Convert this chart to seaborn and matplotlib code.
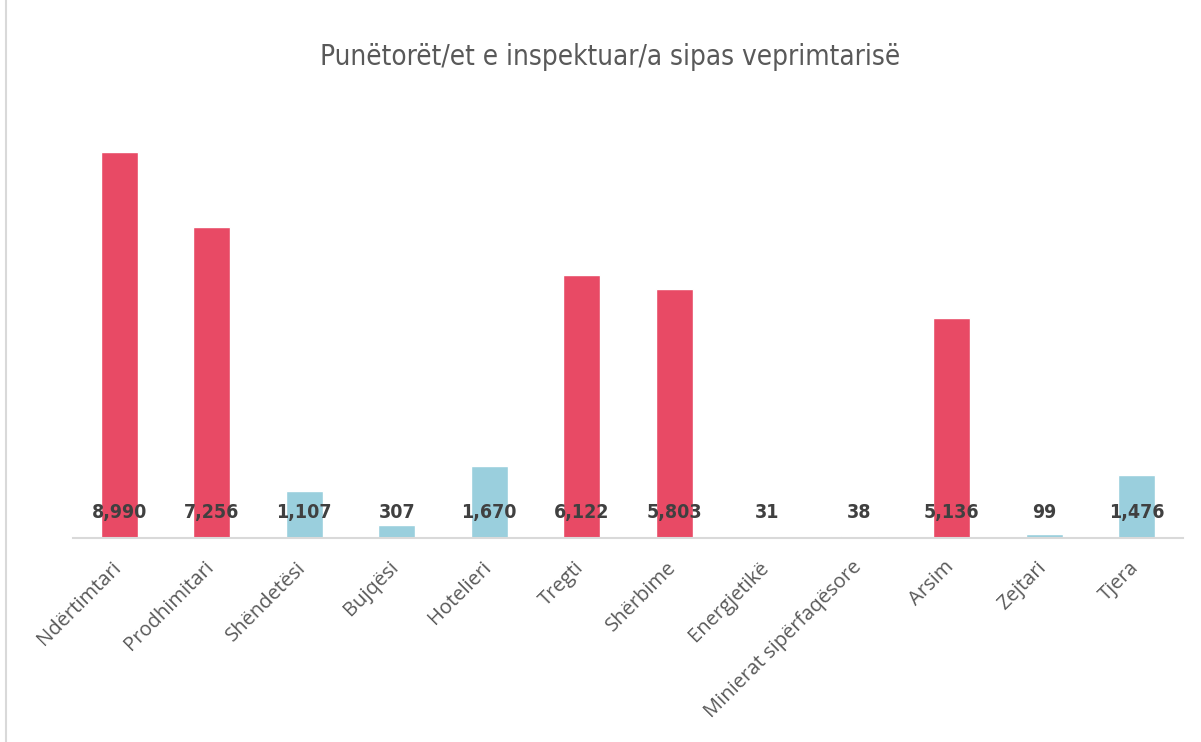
import matplotlib
matplotlib.use("Agg")

import matplotlib.pyplot as plt
import matplotlib.transforms as mtransforms
import seaborn as sns
import pandas as pd

# --- data ---
categories = ["Ndërtimtari", "Prodhimitari", "Shëndetësi", "Bujqësi", "Hotelieri",
              "Tregti", "Shërbime", "Energjetikë", "Minierat sipërfaqësore",
              "Arsim", "Zejtari", "Tjera"]
values = [8990, 7256, 1107, 307, 1670, 6122, 5803, 31, 38, 5136, 99, 1476]
value_labels = ["8,990", "7,256", "1,107", "307", "1,670", "6,122", "5,803",
                "31", "38", "5,136", "99", "1,476"]
title = "Punëtorët/et e inspektuar/a sipas veprimtarisë"

RED = "#E84A65"
BLUE = "#9ACFDD"

sns.set_style("white")
plt.rcParams["font.family"] = ["Open Sans", "DejaVu Sans"]

df = pd.DataFrame({"cat": categories, "val": values})
palette = [RED if v > 5000 else BLUE for v in values]

fig = plt.figure(figsize=(12.01, 7.42), dpi=100)
ax = fig.add_axes([73 / 1201, 1 - 538 / 742, 1110 / 1201, (538 - 109) / 742])

sns.barplot(data=df, x="cat", y="val", hue="cat", palette=palette,
            legend=False, width=0.4, ax=ax, saturation=1)

ax.set_ylim(0, 10000)
ax.set_xlim(-0.5, len(categories) - 0.5)
ax.set_yticks([])
ax.set_xlabel("")
ax.set_ylabel("")
for side in ["top", "right", "left"]:
    ax.spines[side].set_visible(False)
ax.spines["bottom"].set_color("#d9d9d9")
ax.spines["bottom"].set_linewidth(1.5)

ax.tick_params(axis="x", length=0, pad=14)
ax.set_xticks(range(len(categories)))
ax.set_xticklabels(categories, rotation=45, ha="right", rotation_mode="anchor",
                   fontsize=14.5, color="#595959")
# nudge the rotated labels a little to the left
shift = mtransforms.ScaledTranslation(-8 / 100, 0, fig.dpi_scale_trans)
for lbl in ax.get_xticklabels():
    lbl.set_transform(lbl.get_transform() + shift)

# value labels sit low, just above the axis line
for i, lab in enumerate(value_labels):
    ax.text(i, 600, lab, ha="center", va="center", fontsize=14, fontweight="bold",
            color="#404040", family="DejaVu Sans", fontstretch="condensed")

fig.text(610 / 1201, 1 - 57 / 742, title, ha="center", va="center", fontsize=20,
         color="#595959", family="DejaVu Sans", fontstretch="condensed")

# chart frame edge on the left
fig.add_artist(plt.Line2D([6 / 1201, 6 / 1201], [0, 1], color="#d9d9d9",
                          linewidth=1.5, transform=fig.transFigure))

fig.savefig("out.png", dpi=100)
plt.close(fig)
